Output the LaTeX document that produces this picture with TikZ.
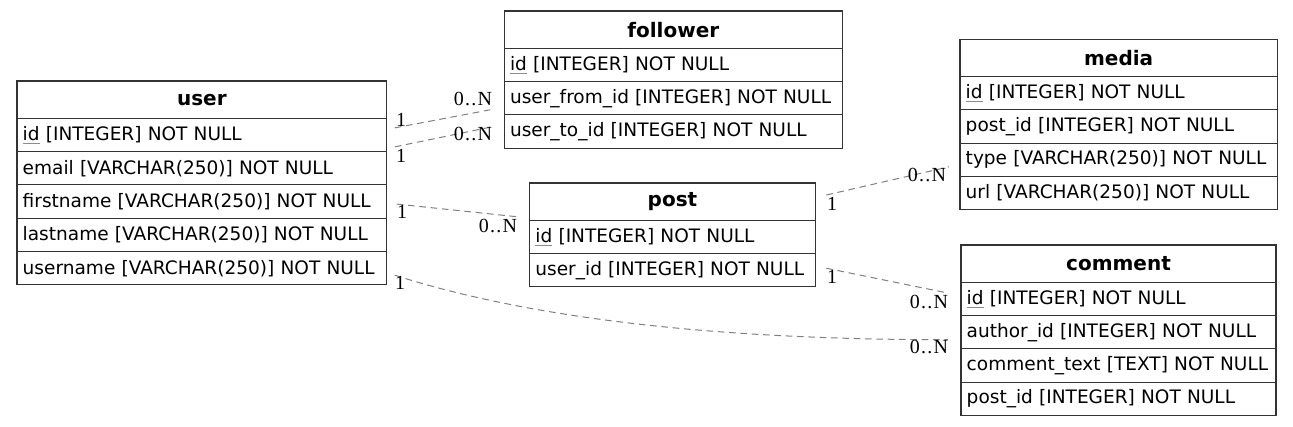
\documentclass[tikz,border=0pt]{standalone}
\usepackage{fontspec}
\newfontfamily\tabfont{DejaVu Sans}
\newfontfamily\labfont[LetterSpace=6]{Liberation Serif}
\usetikzlibrary{positioning}

% primary key: grey underline
\newcommand{\pkey}[1]{\setbox0=\hbox{#1}\rlap{\textcolor{black!45}{\rule[-2.6pt]{\wd0}{0.7pt}}}\box0\relax}

\begin{document}
\begin{tikzpicture}[
    x=0.75pt, y=-0.75pt,
    hdr/.style={rectangle, draw=black!80, line width=0.8pt, outer sep=0pt,
                inner xsep=4pt, inner ysep=0pt, text width=#1, align=center,
                minimum height=27.9pt,
                font=\tabfont\fontsize{15pt}{17pt}\selectfont\bfseries},
    fld/.style={rectangle, draw=black!80, line width=0.8pt, outer sep=0pt,
                inner xsep=4.3pt, inner ysep=0pt, text width=#1, align=left,
                minimum height=25pt,
                font=\tabfont\fontsize{13.9pt}{17pt}\selectfont},
    mult/.style={inner sep=0pt, font=\labfont\fontsize{15pt}{17pt}\selectfont},
    rel/.style={draw=black!50, line width=0.75pt, dash pattern=on 5pt off 3.5pt}
]
\useasboundingbox (0,0) rectangle (1293,426);

%–––– USER –––––––––––––––––––––––––––––––––––––––––
\node (user)   [hdr=269.3pt, anchor=north west] at (17,81) {user};
\node (uid)    [fld=268.7pt, below=0pt of user]   {\pkey{id} [INTEGER] NOT NULL};
\node (uemail) [fld=268.7pt, below=0pt of uid]    {email [VARCHAR(250)] NOT NULL};
\node (ufirst) [fld=268.7pt, below=0pt of uemail] {firstname [VARCHAR(250)] NOT NULL};
\node (ulast)  [fld=268.7pt, below=0pt of ufirst] {lastname [VARCHAR(250)] NOT NULL};
\node (uname)  [fld=268.7pt, below=0pt of ulast]  {username [VARCHAR(250)] NOT NULL};

%–––– FOLLOWER –––––––––––––––––––––––––––––––––––––
\node (follower) [hdr=245.5pt, anchor=north west] at (504.3,11) {follower};
\node (fid)      [fld=244.9pt, below=0pt of follower] {\pkey{id} [INTEGER] NOT NULL};
\node (ffrom)    [fld=244.9pt, below=0pt of fid]      {user\_from\_id [INTEGER] NOT NULL};
\node (fto)      [fld=244.9pt, below=0pt of ffrom]    {user\_to\_id [INTEGER] NOT NULL};

%–––– POST –––––––––––––––––––––––––––––––––––––––––
\node (post)  [hdr=206.2pt, anchor=north west] at (529.7,183) {post};
\node (pid)   [fld=205.6pt, below=0pt of post] {\pkey{id} [INTEGER] NOT NULL};
\node (puser) [fld=205.6pt, below=0pt of pid]  {user\_id [INTEGER] NOT NULL};

%–––– MEDIA ––––––––––––––––––––––––––––––––––––––––
\node (media) [hdr=230pt, anchor=north west] at (960,39.3) {media};
\node (mid)   [fld=229.4pt, below=0pt of media] {\pkey{id} [INTEGER] NOT NULL};
\node (mpost) [fld=229.4pt, below=0pt of mid]   {post\_id [INTEGER] NOT NULL};
\node (mtype) [fld=229.4pt, below=0pt of mpost] {type [VARCHAR(250)] NOT NULL};
\node (murl)  [fld=229.4pt, below=0pt of mtype] {url [VARCHAR(250)] NOT NULL};

%–––– COMMENT ––––––––––––––––––––––––––––––––––––––
\node (comment) [hdr=228.25pt, anchor=north west] at (961,245) {comment};
\node (cid)     [fld=227.65pt, below=0pt of comment] {\pkey{id} [INTEGER] NOT NULL};
\node (cauthor) [fld=227.65pt, below=0pt of cid]     {author\_id [INTEGER] NOT NULL};
\node (ctext)   [fld=227.65pt, below=0pt of cauthor] {comment\_text [TEXT] NOT NULL};
\node (cpost)   [fld=227.65pt, below=0pt of ctext]   {post\_id [INTEGER] NOT NULL};

%–––– RELATIONS ––––––––––––––––––––––––––––––––––––
\draw[rel] ([shift={(8,-7)}]uid.east) -- ([shift={(-11,11)}]ffrom.west);
\draw[rel] ([shift={(8,12)}]uid.east) -- ([shift={(-11,-5)}]fto.west);
\draw[rel] ([shift={(10,2.5)}]ufirst.east) -- ([shift={(-13,-3.5)}]post.south west);
\draw[rel] ([shift={(11,-6.6)}]post.east) -- ([shift={(-11,7)}]mtype.west);
\draw[rel] ([shift={(11,-2)}]puser.east) -- ([shift={(-14,-6)}]cid.west);
\draw[rel] ([shift={(8,7)}]uname.east) .. controls +(125,40) and +(-250,0)
           .. ([shift={(-13,7.5)}]cauthor.west);

%–––– MULTIPLICITIES –––––––––––––––––––––––––––––––
\node (m1a) [mult] at (401,120) {1};
\node (m1b) [mult] at (473,99)  {0..N};
\node (m2a) [mult] at (401,156) {1};
\node (m2b) [mult] at (473,134) {0..N};
\node (m3a) [mult] at (402,212) {1};
\node (m3b) [mult] at (498,226) {0..N};
\node (m4a) [mult] at (832,204) {1};
\node (m4b) [mult] at (927,175) {0..N};
\node (m5a) [mult] at (832,277) {1};
\node (m5b) [mult] at (929,302) {0..N};
\node (m6a) [mult] at (400,283) {1};
\node (m6b) [mult] at (929,347) {0..N};
\end{tikzpicture}
\end{document}
